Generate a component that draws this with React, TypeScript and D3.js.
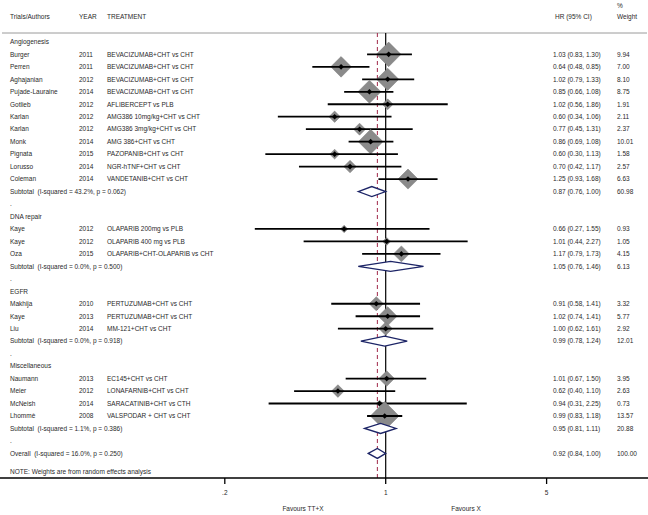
import React from "react";
import * as d3 from "d3";

const groupNames = ["Angiogenesis", "DNA repair", "EGFR", "Miscellaneous"];
const studyGroup = [0,0,0,0,0,0,0,0,0,0,0, 1,1,1, 2,2,2, 3,3,3,3];
const authors = ["Burger","Perren","Aghajanian","Pujade-Lauraine","Gotlieb","Karlan","Karlan","Monk","Pignata","Lorusso","Coleman",
  "Kaye","Kaye","Oza",
  "Makhija","Kaye","Liu",
  "Naumann","Meier","McNeish","Lhommè"];
const years = ["2011","2011","2012","2014","2012","2012","2012","2014","2015","2014","2014",
  "2012","2012","2015",
  "2010","2013","2014",
  "2013","2012","2014","2008"];
const treatments = ["BEVACIZUMAB+CHT vs CHT","BEVACIZUMAB+CHT vs CHT","BEVACIZUMAB+CHT vs CHT","BEVACIZUMAB+CHT vs CHT",
  "AFLIBERCEPT vs PLB","AMG386 10mg/kg+CHT vs CHT","AMG386 3mg/kg+CHT vs CHT","AMG 386+CHT vs CHT","PAZOPANIB+CHT vs CHT",
  "NGR-hTNF+CHT vs CHT","VANDETANIB+CHT vs CHT",
  "OLAPARIB 200mg vs PLB","OLAPARIB 400 mg vs PLB","OLAPARIB+CHT-OLAPARIB vs CHT",
  "PERTUZUMAB+CHT vs CHT","PERTUZUMAB+CHT vs CHT","MM-121+CHT vs CHT",
  "EC145+CHT vs CHT","LONAFARNIB+CHT vs CHT","SARACATINIB+CHT vs CTH","VALSPODAR + CHT vs CHT"];
const hr = [1.03,0.64,1.02,0.85,1.02,0.60,0.77,0.86,0.60,0.70,1.25, 0.66,1.01,1.17, 0.91,1.02,1.00, 1.01,0.62,0.94,0.99];
const lo = [0.83,0.48,0.79,0.66,0.56,0.34,0.45,0.69,0.30,0.42,0.93, 0.27,0.44,0.79, 0.58,0.74,0.62, 0.67,0.40,0.31,0.83];
const hi = [1.30,0.85,1.33,1.08,1.86,1.06,1.31,1.08,1.13,1.17,1.68, 1.55,2.27,1.73, 1.41,1.41,1.61, 1.50,1.10,2.25,1.18];
const weights = ["9.94","7.00","8.10","8.75","1.91","2.11","2.37","10.01","1.58","2.57","6.63", "0.93","1.05","4.15", "3.32","5.77","2.92", "3.95","2.63","0.73","13.57"];

const subLabels = ["Subtotal  (I-squared = 43.2%, p = 0.062)","Subtotal  (I-squared = 0.0%, p = 0.500)","Subtotal  (I-squared = 0.0%, p = 0.918)","Subtotal  (I-squared = 1.1%, p = 0.386)"];
const subHr = [0.87,1.05,0.99,0.95];
const subLo = [0.76,0.76,0.78,0.81];
const subHi = [1.00,1.46,1.24,1.11];
const subW = ["60.98","6.13","12.01","20.88"];

const overallLabel = "Overall  (I-squared = 16.0%, p = 0.250)";
const overallHr = 0.92, overallLo = 0.84, overallHi = 1.00, overallW = "100.00";

const tickValues = [0.2, 1, 5];
const tickLabels = [".2", "1", "5"];

const fmt = (v: number) => v.toFixed(2);

type Row = { kind: string; label?: string; year?: string; trt?: string; hr?: number; lo?: number; hi?: number; w?: string };

function buildRows(): Row[] {
  const rows: Row[] = [];
  groupNames.forEach((g, gi) => {
    rows.push({ kind: "head", label: g });
    studyGroup.forEach((sg, i) => {
      if (sg === gi) rows.push({ kind: "study", label: authors[i], year: years[i], trt: treatments[i], hr: hr[i], lo: lo[i], hi: hi[i], w: weights[i] });
    });
    rows.push({ kind: "sub", label: subLabels[gi], hr: subHr[gi], lo: subLo[gi], hi: subHi[gi], w: subW[gi] });
    rows.push({ kind: "dot", label: "." });
  });
  rows.push({ kind: "sub", label: overallLabel, hr: overallHr, lo: overallLo, hi: overallHi, w: overallW });
  return rows;
}

export default function App() {
  const W = 648, H = 515;
  const rows = buildRows();
  const x = d3.scaleLog().domain([0.2, 5]).range([224.8, 546.6]);
  const y = d3.scaleLinear().domain([0, rows.length - 1]).range([41.9, 453.4]);
  const font = "'Liberation Sans', Arial, Helvetica, sans-serif";
  const fs = 6.5;
  const txt = "#2a2a2a";
  const topY = 33, axisY = 478;
  const colAuthor = 10, colYear = 79, colTrt = 107, colHr = 553, colW = 617;
  const diamond = (cx: number, cy: number, h: number) => `M${cx - h},${cy}L${cx},${cy - h}L${cx + h},${cy}L${cx},${cy + h}Z`;

  return (
    <svg width={W} height={H} style={{ position: "absolute", left: 0, top: 0, background: "#fff" }} fontFamily={font} fontSize={fs}>
      <rect x={0} y={0} width={W} height={H} fill="#fff" />
      {/* header */}
      <text x={colAuthor} y={17} dy="0.35em" fill={txt}>Trials/Authors</text>
      <text x={colYear} y={17} dy="0.35em" fill={txt}>YEAR</text>
      <text x={colTrt} y={17} dy="0.35em" fill={txt}>TREATMENT</text>
      <text x={555} y={17} dy="0.35em" fill={txt}>HR (95% CI)</text>
      <text x={colW} y={6} dy="0.35em" fill={txt}>%</text>
      <text x={colW} y={17} dy="0.35em" fill={txt}>Weight</text>
      <line x1={2} x2={647} y1={topY} y2={topY} stroke="#9a9a9a" strokeWidth={1} />

      {/* reference lines */}
      <line x1={x(1)} x2={x(1)} y1={topY} y2={axisY} stroke="#000" strokeWidth={1.2} />
      <line x1={x(overallHr)} x2={x(overallHr)} y1={topY} y2={axisY} stroke="#a02848" strokeWidth={1} strokeDasharray="4,3" />

      {rows.map((r, i) => {
        const cy = y(i);
        const els: React.ReactNode[] = [];
        if (r.kind === "study") {
          const hs = 3.9 * Math.sqrt(parseFloat(r.w!));
          els.push(<path key="b" d={diamond(x(r.hr!), cy, hs)} fill="#8a8a8a" stroke="#7a7a7a" strokeWidth={0.5} />);
          els.push(<line key="ci" x1={x(r.lo!)} x2={x(r.hi!)} y1={cy} y2={cy} stroke="#000" strokeWidth={1.8} />);
          els.push(<path key="m" d={diamond(x(r.hr!), cy, 2.8)} fill="#000" />);
          els.push(<text key="a" x={colAuthor} y={cy} dy="0.35em" fill={txt}>{r.label}</text>);
          els.push(<text key="y" x={colYear} y={cy} dy="0.35em" fill={txt}>{r.year}</text>);
          els.push(<text key="t" x={colTrt} y={cy} dy="0.35em" fill={txt}>{r.trt}</text>);
          els.push(<text key="h" x={colHr} y={cy} dy="0.35em" fill={txt}>{`${fmt(r.hr!)} (${fmt(r.lo!)}, ${fmt(r.hi!)})`}</text>);
          els.push(<text key="w" x={colW} y={cy} dy="0.35em" fill={txt}>{r.w}</text>);
        } else if (r.kind === "sub") {
          const d = `M${x(r.lo!)},${cy}L${x(r.hr!)},${cy - 5}L${x(r.hi!)},${cy}L${x(r.hr!)},${cy + 5}Z`;
          els.push(<path key="d" d={d} fill="#fff" stroke="#1c2466" strokeWidth={1.3} />);
          els.push(<text key="a" x={colAuthor} y={cy} dy="0.35em" fill={txt} style={{ whiteSpace: "pre" }}>{r.label}</text>);
          els.push(<text key="h" x={colHr} y={cy} dy="0.35em" fill={txt}>{`${fmt(r.hr!)} (${fmt(r.lo!)}, ${fmt(r.hi!)})`}</text>);
          els.push(<text key="w" x={colW} y={cy} dy="0.35em" fill={txt}>{r.w}</text>);
        } else {
          els.push(<text key="a" x={colAuthor} y={cy} dy="0.35em" fill={txt}>{r.label}</text>);
        }
        return <g key={i}>{els}</g>;
      })}

      <text x={colAuthor} y={472} dy="0.35em" fill={txt}>NOTE: Weights are from random effects analysis</text>

      {/* axis */}
      <line x1={0} x2={648} y1={axisY} y2={axisY} stroke="#000" strokeWidth={1.5} />
      {tickValues.map((t, i) => (
        <g key={t}>
          <line x1={x(t)} x2={x(t)} y1={axisY} y2={axisY + 6} stroke="#000" strokeWidth={1.3} />
          <text x={x(t)} y={493} dy="0.35em" textAnchor="middle" fill={txt}>{tickLabels[i]}</text>
        </g>
      ))}
      <text x={303} y={509} dy="0.35em" textAnchor="middle" fill={txt}>Favours TT+X</text>
      <text x={466} y={509} dy="0.35em" textAnchor="middle" fill={txt}>Favours X</text>
    </svg>
  );
}
